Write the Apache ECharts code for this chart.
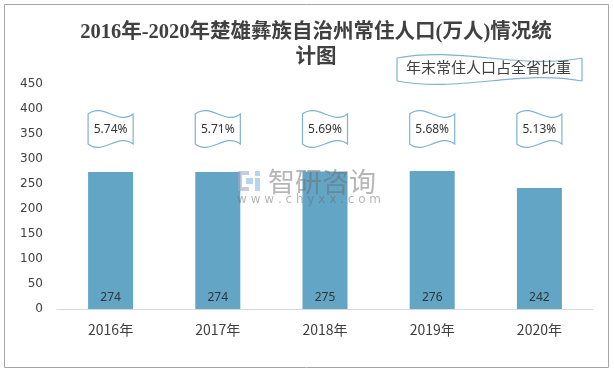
<!DOCTYPE html>
<html>
<head>
<meta charset="utf-8">
<script src="https://cdn.jsdelivr.net/npm/echarts@6/dist/echarts.min.js"></script>
<style>html,body{margin:0;padding:0;background:#fff;}#main{width:614px;height:373px;}</style>
</head>
<body>
<div id="main"></div>
<script>
var categories = ['2016年', '2017年', '2018年', '2019年', '2020年'];
var population = [274, 274, 275, 276, 242];
var sharePct = [5.74, 5.71, 5.69, 5.68, 5.13];
var yTicks = [0, 50, 100, 150, 200, 250, 300, 350, 400, 450];
var titleText = '2016年-2020年楚雄彝族自治州常住人口(万人)情况统\n计图';
var shareName = '年末常住人口占全省比重';
var flagLevel = 358;

function wavePath(x0, x1, yt, yb, k) {
  var w = x1 - x0;
  return 'M' + x0 + ',' + yt +
    ' C' + (x0 + w / 3) + ',' + (yt - k) + ' ' + (x0 + 2 * w / 3) + ',' + (yt + k) + ' ' + x1 + ',' + yt +
    ' L' + x1 + ',' + yb +
    ' C' + (x0 + 2 * w / 3) + ',' + (yb - k) + ' ' + (x0 + w / 3) + ',' + (yb + k) + ' ' + x0 + ',' + yb + ' Z';
}

function waveBorder(x0, x1, yt, yb, k, stroke) {
  var w = x1 - x0;
  var st = { fill: 'none', stroke: stroke, lineWidth: 1.2 };
  return [
    { type: 'bezierCurve', shape: { x1: x0, y1: yt, x2: x1, y2: yt, cpx1: x0 + w / 3, cpy1: yt - k, cpx2: x0 + 2 * w / 3, cpy2: yt + k }, style: st },
    { type: 'bezierCurve', shape: { x1: x0, y1: yb, x2: x1, y2: yb, cpx1: x0 + w / 3, cpy1: yb + k, cpx2: x0 + 2 * w / 3, cpy2: yb - k }, style: st },
    { type: 'line', shape: { x1: x0, y1: yt, x2: x0, y2: yb }, style: st },
    { type: 'line', shape: { x1: x1, y1: yt, x2: x1, y2: yb }, style: st }
  ];
}

var wmLogo = 'rgba(160,170,200,0.6)';
var wmLogo2 = 'rgba(150,195,235,0.7)';
var wmText = 'rgba(110,110,110,0.5)';

var chart = echarts.init(document.getElementById('main'));
chart.setOption({
  animation: false,
  backgroundColor: '#fff',
  title: {
    text: titleText,
    left: 316,
    top: 20,
    textAlign: 'center',
    padding: 0,
    textStyle: {
      fontFamily: "'Liberation Serif', 'Noto Sans CJK SC'",
      fontSize: 20.5,
      fontWeight: 'bold',
      color: '#404040',
      lineHeight: 25,
      align: 'center'
    }
  },
  legend: {
    data: [shareName],
    left: 401,
    top: 60,
    padding: 0,
    itemWidth: 0,
    itemHeight: 0,
    textStyle: { fontFamily: "'Noto Sans CJK SC'", fontSize: 15, color: '#404040' },
    selectedMode: false
  },
  grid: { left: 57, right: 21, top: 84, bottom: 64 },
  xAxis: {
    type: 'category',
    data: categories,
    axisLine: { lineStyle: { color: '#d9d9d9', width: 1 } },
    axisTick: { show: false },
    axisLabel: { fontFamily: "'Noto Sans CJK SC'", fontSize: 14, color: '#404040', margin: 14 }
  },
  yAxis: {
    type: 'value',
    min: 0,
    max: yTicks[yTicks.length - 1],
    interval: yTicks[1] - yTicks[0],
    splitLine: { show: false },
    axisLine: { show: false },
    axisTick: { show: false },
    axisLabel: { fontFamily: "'DejaVu Sans'", fontSize: 12, color: '#404040', margin: 14 }
  },
  series: [
    {
      type: 'bar',
      name: '常住人口',
      data: population,
      barWidth: '42%',
      itemStyle: { color: '#63a5c4' },
      label: {
        show: true,
        position: 'insideBottom',
        distance: 5,
        fontFamily: "'Noto Sans'",
        fontSize: 12,
        color: '#333'
      }
    },
    {
      type: 'custom',
      name: shareName,
      data: sharePct.map(function (v, i) { return [i, v]; }),
      encode: { x: 0 },
      itemStyle: { color: 'rgba(0,0,0,0)' },
      renderItem: function (params, api) {
        var idx = api.value(0);
        var cx = api.coord([idx, 0])[0];
        var w = api.size([1, 0])[0] * 0.42;
        var cy = api.coord([idx, flagLevel])[1];
        var x0 = cx - w / 2, x1 = cx + w / 2;
        return {
          type: 'group',
          children: [
            {
              type: 'path',
              shape: { pathData: wavePath(x0, x1, cy - 16, cy + 14, 12) },
              style: { fill: '#fff', stroke: '#7fb2cf', lineWidth: 1.2 }
            },
            {
              type: 'text',
              style: {
                text: api.value(1).toFixed(2) + '%',
                x: cx, y: cy,
                align: 'center', verticalAlign: 'middle',
                font: "12px 'Noto Sans'",
                fill: '#333'
              }
            }
          ]
        };
      }
    }
  ],
  graphic: [
    {
      type: 'rect',
      shape: { x: 4.5, y: 4.5, width: 604, height: 363 },
      style: { fill: 'none', stroke: '#a6a6a6', lineWidth: 1 },
      silent: true
    },
    {
      type: 'group',
      silent: true,
      z: 10,
      children: waveBorder(397, 582, 58, 81, 12, '#7fb2cf')
    },
    { type: 'rect', z: 100, silent: true, shape: { x: 238, y: 171, width: 11, height: 4 }, style: { fill: wmLogo } },
    { type: 'rect', z: 100, silent: true, shape: { x: 238, y: 175, width: 4, height: 12 }, style: { fill: wmLogo } },
    { type: 'rect', z: 100, silent: true, shape: { x: 238, y: 187, width: 11, height: 4 }, style: { fill: wmLogo } },
    { type: 'rect', z: 100, silent: true, shape: { x: 246, y: 178, width: 7, height: 6 }, style: { fill: wmLogo2 } },
    { type: 'rect', z: 100, silent: true, shape: { x: 255, y: 171, width: 5, height: 5 }, style: { fill: wmLogo2 } },
    { type: 'rect', z: 100, silent: true, shape: { x: 255, y: 178, width: 5, height: 13 }, style: { fill: wmLogo2 } },
    {
      type: 'text', z: 100, silent: true,
      style: {
        text: '智研咨询', x: 268, y: 182, verticalAlign: 'middle',
        font: "27px 'Noto Sans CJK SC'", fill: wmText
      }
    },
    {
      type: 'text', z: 100, silent: true,
      style: {
        text: 'w w w . c h y x x . c o m', x: 237, y: 200, verticalAlign: 'middle',
        font: "12px 'DejaVu Sans'", fill: wmText
      }
    }
  ]
});
</script>
</body>
</html>
